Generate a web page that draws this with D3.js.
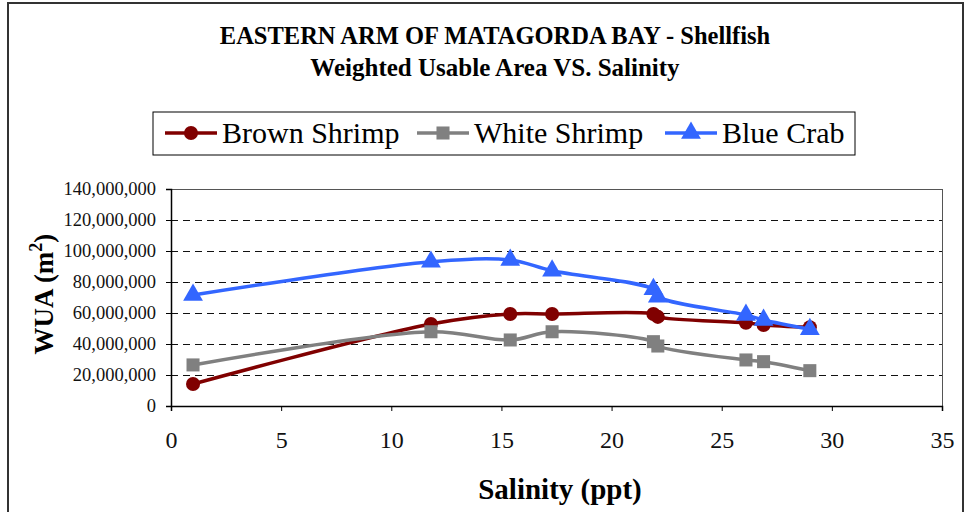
<!DOCTYPE html>
<html lang="en">
<head>
  <meta charset="UTF-8">
  <title>Eastern Arm of Matagorda Bay - Shellfish WUA</title>
  <style>
    body { margin: 0; background: #fff; }
    svg text { font-family: "Liberation Serif", "Times New Roman", serif; }
  </style>
</head>
<body>
  <svg id="chart" width="969" height="512"></svg>

  <script src="https://cdn.jsdelivr.net/npm/d3@7/dist/d3.min.js"></script>
  <script>
    // values (WUA in millions of m2)
    const salinity = [1, 11.8, 15.4, 17.3, 21.9, 22.1, 26.1, 26.9, 29];
    const brownShrimp = [14.2, 52.9, 59.4, 59.4, 59.4, 57.5, 53.7, 52.3, 50.8];
    const whiteShrimp = [26.5, 47.9, 42.6, 47.9, 41.5, 38.7, 29.7, 28.6, 22.8];
    const blueCrab = [71.6, 93.0, 94.2, 87.3, 75.3, 70.5, 58.7, 55.5, 49.5];
    const seriesNames = ["Brown Shrimp", "White Shrimp", "Blue Crab"];
    const seriesColors = ["#800000", "#808080", "#3366ff"];
    const seriesMarkers = [d3.symbolCircle, d3.symbolSquare, d3.symbolTriangle];
    const xTicks = [0, 5, 10, 15, 20, 25, 30, 35];
    const yTicks = [0, 20e6, 40e6, 60e6, 80e6, 100e6, 120e6, 140e6];

    const series = [brownShrimp, whiteShrimp, blueCrab].map((vals, i) => ({
      name: seriesNames[i],
      color: seriesColors[i],
      marker: seriesMarkers[i],
      points: vals.map((v, j) => ({ x: salinity[j], y: v * 1e6 }))
    }));

    const svg = d3.select("#chart");
    const plot = { left: 171, right: 942, top: 189, bottom: 406 };

    const x = d3.scaleLinear().domain([0, 35]).range([plot.left, plot.right]);
    const y = d3.scaleLinear().domain([0, 140e6]).range([plot.bottom, plot.top]);

    // outer frame
    svg.append("rect")
      .attr("x", 8).attr("y", 3)
      .attr("width", 955).attr("height", 540)
      .attr("fill", "none").attr("stroke", "#333").attr("stroke-width", 2);

    // title
    const title = svg.append("g").attr("font-weight", "bold").attr("text-anchor", "middle");
    title.append("text").attr("x", 495).attr("y", 44).attr("font-size", 24.5)
      .text("EASTERN ARM OF MATAGORDA BAY - Shellfish");
    title.append("text").attr("x", 495).attr("y", 76).attr("font-size", 25)
      .text("Weighted Usable Area VS. Salinity");

    // plot border + grid
    svg.append("rect")
      .attr("x", plot.left).attr("y", plot.top)
      .attr("width", plot.right - plot.left).attr("height", plot.bottom - plot.top)
      .attr("fill", "none").attr("stroke", "#555")
      .attr("shape-rendering", "crispEdges");

    svg.append("g").selectAll("line")
      .data(yTicks.filter(d => d > 0 && d < 140e6))
      .join("line")
      .attr("x1", plot.left).attr("x2", plot.right)
      .attr("y1", d => y(d)).attr("y2", d => y(d))
      .attr("stroke", "#111")
      .attr("stroke-dasharray", "7,5")
      .attr("shape-rendering", "crispEdges");

    // axes
    const yAxis = svg.append("g")
      .attr("transform", `translate(${plot.left},0)`)
      .call(d3.axisLeft(y).tickValues(yTicks).tickSize(5).tickPadding(10).tickFormat(d3.format(",")));
    yAxis.selectAll("text").attr("font-size", 18.5).attr("fill", "#111");

    const xAxis = svg.append("g")
      .attr("transform", `translate(0,${plot.bottom})`)
      .call(d3.axisBottom(x).tickValues(xTicks).tickSize(5).tickPadding(20));
    xAxis.selectAll("text").attr("font-size", 24).attr("fill", "#111");

    [yAxis, xAxis].forEach(a => {
      a.select(".domain").attr("stroke", "#000").attr("stroke-width", 1.5);
      a.selectAll(".tick line").attr("stroke", "#000");
    });

    // axis titles
    svg.append("text")
      .attr("x", 560).attr("y", 499)
      .attr("text-anchor", "middle").attr("font-weight", "bold").attr("font-size", 29)
      .text("Salinity (ppt)");

    const yTitle = svg.append("text")
      .attr("transform", "translate(53,294) rotate(-90)")
      .attr("text-anchor", "middle").attr("font-weight", "bold").attr("font-size", 27);
    yTitle.append("tspan").text("WUA (m");
    yTitle.append("tspan").attr("dy", -11).attr("font-size", 18).text("2");
    yTitle.append("tspan").attr("dy", 11).text(")");

    // lines and markers
    const line = d3.line()
      .x(d => x(d.x)).y(d => y(d.y))
      .curve(d3.curveCatmullRom.alpha(0.5));

    const markerSize = [155, 170, 170];

    series.forEach((s, i) => {
      const g = svg.append("g");
      g.append("path")
        .datum(s.points)
        .attr("d", line)
        .attr("fill", "none")
        .attr("stroke", s.color)
        .attr("stroke-width", 3.5);
      g.selectAll("path.pt")
        .data(s.points)
        .join("path")
        .attr("class", "pt")
        .attr("transform", d => `translate(${x(d.x)},${y(d.y)})`)
        .attr("d", d3.symbol().type(s.marker).size(markerSize[i]))
        .attr("fill", s.color);
    });

    // legend
    const legend = svg.append("g");
    legend.append("rect")
      .attr("x", 153).attr("y", 112)
      .attr("width", 702).attr("height", 43)
      .attr("fill", "#fff").attr("stroke", "#000");

    const legendX = [165, 417, 665];
    series.forEach((s, i) => {
      const lg = legend.append("g").attr("transform", `translate(${legendX[i]},133)`);
      lg.append("line")
        .attr("x1", 0).attr("x2", 52)
        .attr("stroke", s.color).attr("stroke-width", 3.5);
      lg.append("path")
        .attr("transform", "translate(26,0)")
        .attr("d", d3.symbol().type(s.marker).size(markerSize[i]))
        .attr("fill", s.color);
      lg.append("text")
        .attr("x", 57).attr("y", 10)
        .attr("font-size", 30)
        .text(s.name);
    });
  </script>
</body>
</html>
